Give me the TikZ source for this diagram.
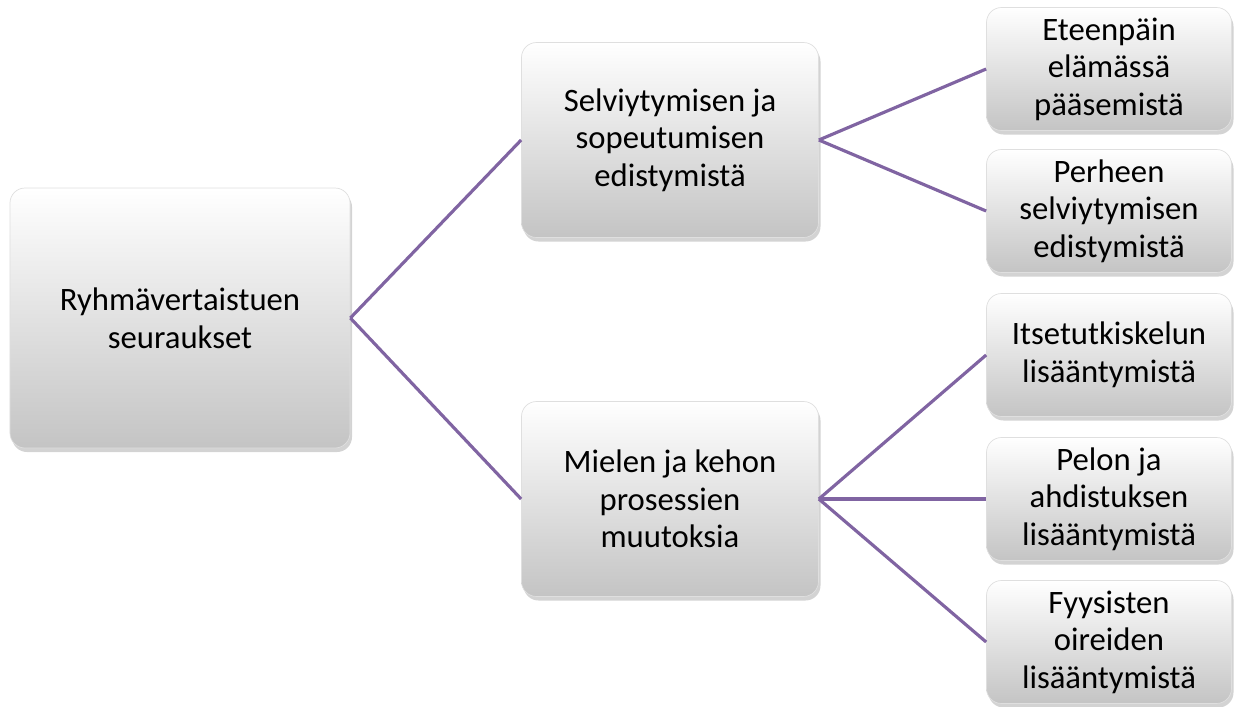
\documentclass[tikz,border=0pt]{standalone}
\usepackage{fontspec}
\setmainfont{Carlito}
\usepackage{tikz}
\usetikzlibrary{shadows}
\definecolor{linkpurple}{RGB}{128,100,162}
\definecolor{boxgray}{RGB}{196,196,196}

\begin{document}
\begin{tikzpicture}[x=0.2mm, y=-0.2mm,
  box/.style={draw=gray!25, line width=0.4pt, rounded corners=3mm, top color=white,
              bottom color=boxgray, align=center, font=\fontsize{18.6}{21.4}\selectfont,
              drop shadow={opacity=0.35, shadow xshift=0.4mm, shadow yshift=-0.8mm},
              inner sep=2pt},
  link/.style={linkpurple, line width=1.8pt}]
  \useasboundingbox (0,0) rectangle (1234,706);
  \node[box, minimum width=6.8cm, minimum height=5.2cm] (root) at (180,318)
    {Ryhmävertaistuen\\ seuraukset};
  \node[box, minimum width=5.94cm, minimum height=3.9cm] (selv) at (670,140)
    {Selviytymisen ja\\ sopeutumisen\\ edistymistä};
  \node[box, minimum width=5.94cm, minimum height=3.9cm] (miel) at (670,499)
    {Mielen ja kehon\\ prosessien\\ muutoksia};
  \node[box, minimum width=4.9cm, minimum height=2.46cm] (eteen) at (1109,69)
    {Eteenpäin\\ elämässä\\ pääsemistä};
  \node[box, minimum width=4.9cm, minimum height=2.46cm] (perh) at (1109,211)
    {Perheen\\ selviytymisen\\ edistymistä};
  \node[box, minimum width=4.9cm, minimum height=2.46cm] (itse) at (1109,355)
    {Itsetutkiskelun\\ lisääntymistä};
  \node[box, minimum width=4.9cm, minimum height=2.46cm] (pelon) at (1109,499)
    {Pelon ja\\ ahdistuksen\\ lisääntymistä};
  \node[box, minimum width=4.9cm, minimum height=2.46cm] (fyys) at (1109,642)
    {Fyysisten\\ oireiden\\ lisääntymistä};
  \draw[link] (root.east) -- (selv.west);
  \draw[link] (root.east) -- (miel.west);
  \draw[link] (selv.east) -- (eteen.west);
  \draw[link] (selv.east) -- (perh.west);
  \draw[link] (miel.east) -- (itse.west);
  \draw[link] (miel.east) -- (pelon.west);
  \draw[link] (miel.east) -- (fyys.west);
\end{tikzpicture}
\end{document}
